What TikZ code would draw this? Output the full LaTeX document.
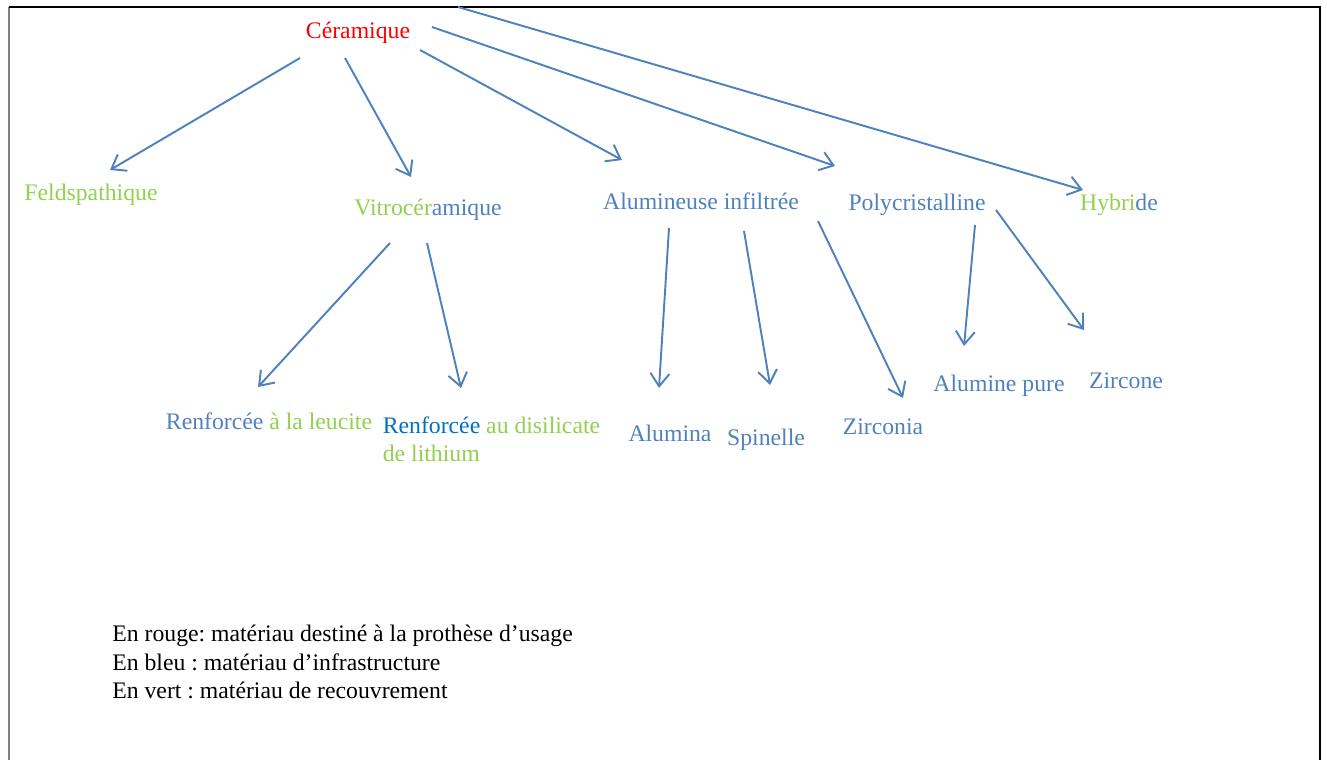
\documentclass[tikz,border=0pt]{standalone}
\usepackage{fontspec}
\setmainfont{Liberation Serif}
\usetikzlibrary{arrows.meta}
\frenchspacing

\definecolor{rouge}{HTML}{FF0000}
\definecolor{bleu}{HTML}{4F81BD}
\definecolor{bleufonce}{HTML}{0070C0}
\definecolor{vert}{HTML}{92D050}

\tikzset{
	lbl/.style={inner sep=0pt, font=\fontsize{13.5}{16}\selectfont},
	fleche/.style={draw=bleu, line width=1.1pt, -{Straight Barb[length=2.6mm, width=3.8mm]}},
}

\begin{document}
\begin{tikzpicture}[x=0.02cm, y=-0.02cm]
	\useasboundingbox (0,0) rectangle (1327,760);
	
	% --- Cadre ---
	\draw[gray, line width=0.8pt] (9,7) -- (9,760);
	\draw[line width=0.8pt] (9,7) -- (1320,7) -- (1320,760);
	
	% --- Etiquettes ---
	\node[lbl, text=rouge] (ceram) at (358,33) {Céramique};
	
	\node[lbl, text=vert] (feld) at (91,195) {Feldspathique};
	\node[lbl] (vitro) at (428,210) {\textcolor{vert}{Vitrocér}\textcolor{bleu}{amique}};
	\node[lbl, text=bleu] (alum) at (701,201) {Alumineuse infiltrée};
	\node[lbl, text=bleu] (poly) at (917,205) {Polycristalline};
	\node[lbl] (hyb) at (1119,205) {\textcolor{vert}{Hybri}\textcolor{bleu}{de}};
	
	\node[lbl] (leuc) at (269,421) {\textcolor{bleu}{Renforcée} \textcolor{vert}{à la leucite}};
	\node[lbl, align=left, text=vert] (disil) at (491.5,439.5)
		{\textcolor{bleufonce}{Renforcée} au disilicate\\de lithium};
	\node[lbl, text=bleu] (alumina) at (670,433) {Alumina};
	\node[lbl, text=bleu] (spin) at (766,440) {Spinelle};
	\node[lbl, text=bleu] (zirconia) at (883,427) {Zirconia};
	\node[lbl, text=bleu] (alpure) at (999,386) {Alumine pure};
	\node[lbl, text=bleu] (zircone) at (1126,381) {Zircone};
	
	% --- Legende ---
	\node[lbl, anchor=west, align=left] (legende) at (112,662)
		{En rouge: matériau destiné à la prothèse d’usage\\
		 En bleu : matériau d’infrastructure\\
		 En vert : matériau de recouvrement};
	
	% --- Fleches ---
	\coordinate (hybdep) at (458,7);
	\draw[fleche] ([shift={(-58,25)}]ceram.center) -- ([shift={(19,-25)}]feld.center);
	\draw[fleche] ([shift={(-13,25)}]ceram.center) -- ([shift={(-17,-33)}]vitro.center);
	\draw[fleche] ([shift={(62,17)}]ceram.center) -- ([shift={(-79,-41)}]alum.center);
	\draw[fleche] ([shift={(74,-6)}]ceram.center) -- ([shift={(-82,-39)}]poly.center);
	\draw[fleche] (hybdep) -- ([shift={(-36,-15)}]hyb.center);
	
	\draw[fleche] ([shift={(-38,33)}]vitro.center) -- ([shift={(-11,-34)}]leuc.center);
	\draw[fleche] ([shift={(-1,33)}]vitro.center) -- ([shift={(-30.5,-51.5)}]disil.center);
	
	\draw[fleche] ([shift={(-32,27)}]alum.center) -- ([shift={(-11,-45)}]alumina.center);
	\draw[fleche] ([shift={(43,30)}]alum.center) -- ([shift={(4,-55)}]spin.center);
	\draw[fleche] ([shift={(117,20)}]alum.center) -- ([shift={(20,-29)}]zirconia.center);
	
	\draw[fleche] ([shift={(58,20)}]poly.center) -- ([shift={(-35,-40)}]alpure.center);
	\draw[fleche] ([shift={(79,5)}]poly.center) -- ([shift={(-42,-51)}]zircone.center);
\end{tikzpicture}
\end{document}
